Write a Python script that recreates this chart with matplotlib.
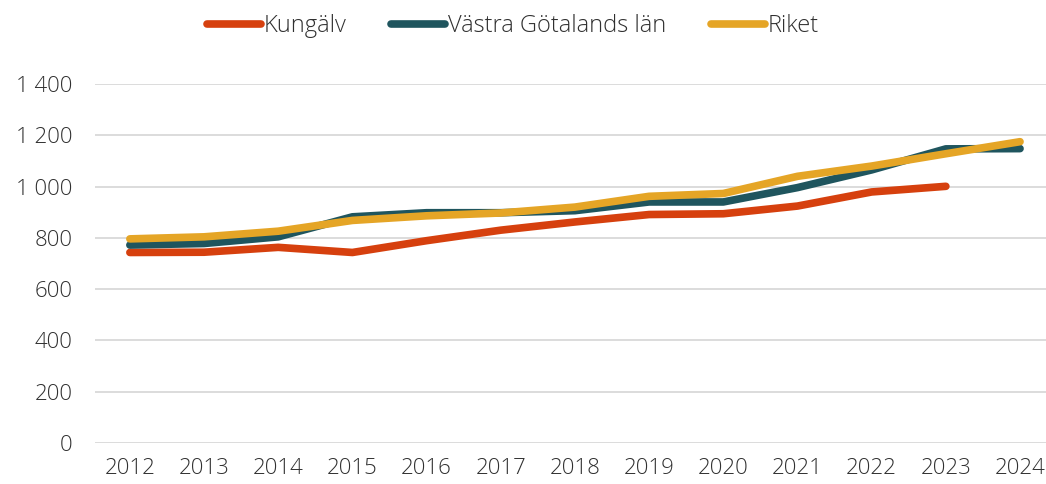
import numpy as np
import matplotlib.pyplot as plt
from matplotlib.ticker import FuncFormatter

years = ['2012', '2013', '2014', '2015', '2016', '2017', '2018', '2019', '2020', '2021', '2022', '2023', '2024']
kungalv = [743, 744, 763, 743, 789, 830, 862, 891, 894, 924, 979, 1001]
vastra_gotaland = [772, 778, 804, 882, 898, 898, 906, 940, 940, 996, 1065, 1147, 1148]
riket = [796, 804, 826, 868, 886, 897, 920, 962, 973, 1040, 1080, 1128, 1175]

labels = ['Kungälv', 'Västra Götalands län', 'Riket']
colors = ['#D6400E', '#1F555E', '#E5A526']

plt.rcParams['font.family'] = ['Open Sans', 'DejaVu Sans']
plt.rcParams['font.weight'] = 'light'
text_color = '#303030'

fig = plt.figure(figsize=(10.46, 4.84), dpi=100)
ax = fig.add_axes([95 / 1046, 1 - 443 / 484, 1 - 95 / 1046, (443 - 84) / 484])

x = np.arange(len(years))
for vals, lab, col in zip([kungalv, vastra_gotaland, riket], labels, colors):
    ax.plot(x[:len(vals)], vals, color=col, lw=5.5, label=lab,
            solid_capstyle='round', solid_joinstyle='round')

ax.set_ylim(0, 1400)
ax.set_yticks(range(0, 1401, 200))
ax.yaxis.set_major_formatter(FuncFormatter(lambda v, p: f'{int(v):,}'.replace(',', ' ')))
ax.set_xlim(-0.47, 12.35)
ax.set_xticks(x)
ax.set_xticklabels(years)
ax.grid(axis='y', color='#D9D9D9', lw=1.3)
ax.set_axisbelow(True)
for s in ax.spines.values():
    s.set_visible(False)
ax.tick_params(length=0, labelsize=16, colors=text_color, pad=11)
ax.tick_params(axis='y', pad=16)

leg = fig.legend(loc='upper center', bbox_to_anchor=(0.49, 1.015), ncol=3, frameon=False,
                 fontsize=17, handlelength=2.3, handletextpad=0.1, columnspacing=1.9)
for t in leg.get_texts():
    t.set_color(text_color)

fig.savefig('out.png', dpi=100)
